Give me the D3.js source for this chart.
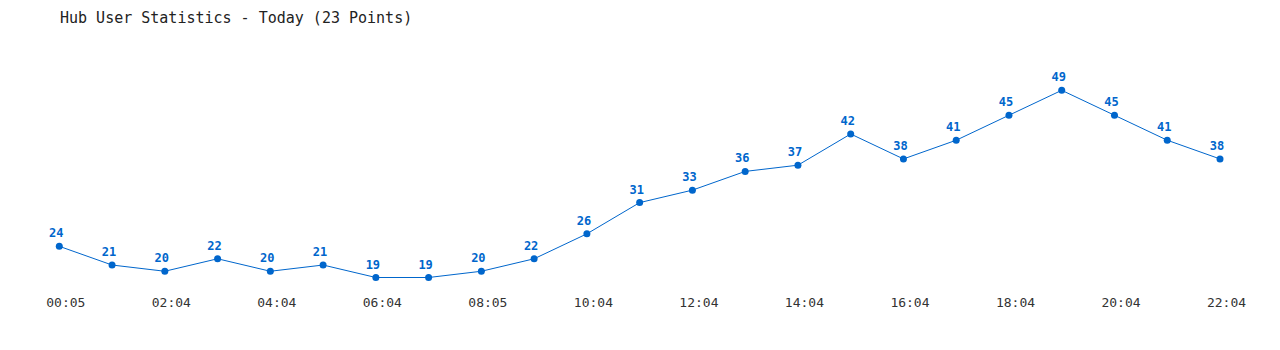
<!doctype html>
<html lang="en">
<head>
  <meta charset="utf-8">
  <title>Hub User Statistics</title>
  <style>
    body { margin: 0; background: #fff; }
    svg { display: block; }
  </style>
</head>
<body>
  <svg></svg>
  <script src="https://cdn.jsdelivr.net/npm/d3@7/dist/d3.min.js"></script>
  <script>
    // data
    var times = ['00:05', '01:04', '02:04', '03:04', '04:04', '05:04', '06:04', '07:04',
      '08:05', '09:04', '10:04', '11:04', '12:04', '13:04', '14:04', '15:04',
      '16:04', '17:04', '18:04', '19:04', '20:04', '21:04', '22:04'];
    var users = [24, 21, 20, 22, 20, 21, 19, 19, 20, 22, 26, 31, 33, 36, 37, 42, 38, 41, 45, 49, 45, 41, 38];
    var tickLabels = ['00:05', '02:04', '04:04', '06:04', '08:05', '10:04',
      '12:04', '14:04', '16:04', '18:04', '20:04', '22:04'];

    var width = 1280, height = 350;
    var mono = '"DejaVu Sans Mono", "Liberation Mono", monospace';
    var blue = '#0066cc';

    var svg = d3.select('svg').attr('width', width).attr('height', height);

    // title
    svg.append('text')
      .attr('x', 60).attr('y', 23)
      .attr('font-family', mono).attr('font-size', 15)
      .attr('fill', '#222')
      .text('Hub User Statistics - Today (23 Points)');

    // scales
    var x = d3.scalePoint().domain(times).range([59.3, 1220]);
    var y = d3.scaleLinear().domain([19, 49]).range([277.5, 90.3]);

    // x axis labels (every other point)
    var xAxis = d3.axisBottom(x).tickValues(tickLabels).tickSize(0).tickPadding(0);
    var gx = svg.append('g').attr('transform', 'translate(6,298)').call(xAxis);
    gx.select('.domain').remove();
    gx.selectAll('text')
      .attr('font-family', mono).attr('font-size', 13)
      .attr('fill', '#333');

    // line
    svg.append('path')
      .datum(users)
      .attr('fill', 'none')
      .attr('stroke', blue)
      .attr('stroke-width', 1)
      .attr('d', d3.line()
        .x(function (v, i) { return x(times[i]); })
        .y(function (v) { return y(v); }));

    // points
    svg.selectAll('circle.pt').data(users).enter()
      .append('circle')
      .attr('class', 'pt')
      .attr('cx', function (v, i) { return x(times[i]); })
      .attr('cy', function (v) { return y(v); })
      .attr('r', 3.5)
      .attr('fill', blue);

    // value labels
    svg.selectAll('text.val').data(users).enter()
      .append('text')
      .attr('class', 'val')
      .attr('x', function (v, i) { return x(times[i]) - 3; })
      .attr('y', function (v) { return y(v) - 9; })
      .attr('text-anchor', 'middle')
      .attr('font-family', mono).attr('font-size', 12)
      .attr('font-weight', 'bold')
      .attr('fill', blue)
      .text(function (v) { return v; });
  </script>
</body>
</html>
